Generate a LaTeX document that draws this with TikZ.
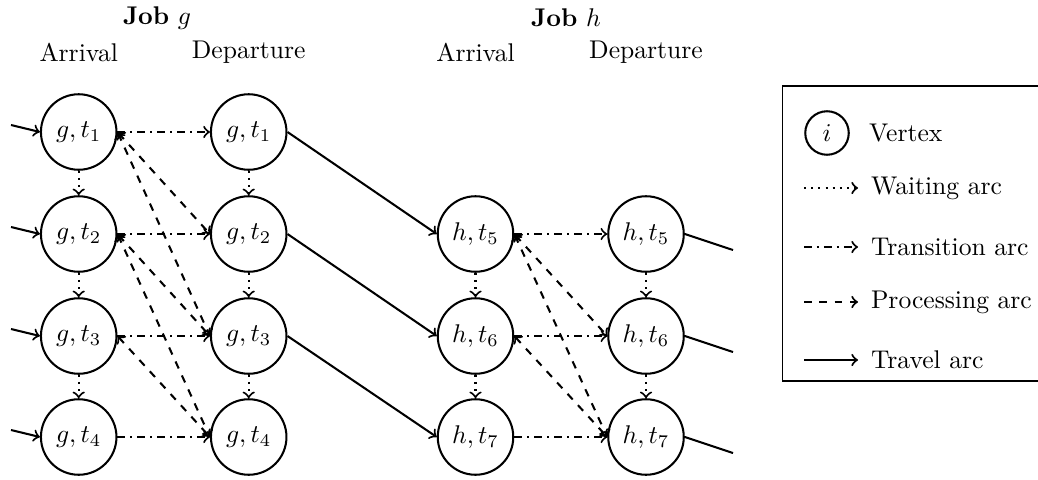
\documentclass[tikz,border=0pt]{standalone}
\begin{document}
\begin{tikzpicture}[x=0.390625pt,y=-0.390625pt,
  vertex/.style={circle,draw,thick,minimum size=29.5pt,inner sep=0pt},
  legvertex/.style={circle,draw,thick,minimum size=17pt,inner sep=0pt},
  waiting/.style={->,thick,dotted},
  transition/.style={->,thick,dash dot},
  processing/.style={<->,thick,dashed},
  travel/.style={->,thick},
  header/.style={inner sep=0pt},
  legtext/.style={anchor=west}]
\clip (0,0) rectangle (1038,479);

% column headers
\node[header] (jg) at (157,18) {\textbf{Job} $g$};
\node[header] (jh) at (566,18) {\textbf{Job} $h$};
\node[header] (arrg) at (78.7,52) {Arrival};
\node[header] (depg) at (248.7,52) {Departure};
\node[header] (arrh) at (475.5,52) {Arrival};
\node[header] (deph) at (646,52) {Departure};

% vertices of job g
\foreach \i/\y in {1/132,2/234,3/336,4/437}{
  \node[vertex] (ga\i) at (78.7,\y) {$g,t_\i$};
  \node[vertex] (gd\i) at (248.7,\y) {$g,t_\i$};
}
% vertices of job h
\foreach \i/\y in {5/234,6/336,7/437}{
  \node[vertex] (ha\i) at (475.5,\y) {$h,t_\i$};
  \node[vertex] (hd\i) at (646,\y) {$h,t_\i$};
}

% incoming travel arcs of job g
\foreach \i/\y in {1/132,2/234,3/336,4/437}{
  \coordinate (in\i) at (11,\y-7);
  \draw[travel] (in\i) -- (ga\i.west);
}
% outgoing travel arcs of job h
\foreach \i/\y in {5/234,6/336,7/437}{
  \coordinate (out\i) at (733,\y+16);
  \draw[thick] (hd\i.east) -- (out\i);
}

% waiting arcs
\foreach \a/\b in {1/2,2/3,3/4}{
  \draw[waiting] (ga\a.south) -- (ga\b.north);
  \draw[waiting] (gd\a.south) -- (gd\b.north);
}
\foreach \a/\b in {5/6,6/7}{
  \draw[waiting] (ha\a.south) -- (ha\b.north);
  \draw[waiting] (hd\a.south) -- (hd\b.north);
}

% transition arcs
\foreach \i in {1,2,3,4}{
  \draw[transition] (ga\i.east) -- (gd\i.west);
}
\foreach \i in {5,6,7}{
  \draw[transition] (ha\i.east) -- (hd\i.west);
}

% processing arcs
\foreach \a/\b in {1/2,1/3,2/3,2/4,3/4}{
  \draw[processing] (ga\a.east) -- (gd\b.west);
}
\foreach \a/\b in {5/6,5/7,6/7}{
  \draw[processing] (ha\a.east) -- (hd\b.west);
}

% travel arcs between the jobs
\draw[travel] (gd1.east) -- (ha5.west);
\draw[travel] (gd2.east) -- (ha6.west);
\draw[travel] (gd3.east) -- (ha7.west);

% legend
\draw[thin] (782,86) rectangle (1060,381);
\node[legvertex] (li) at (827,133) {$i$};
\node[legtext] (lv) at (860,133) {Vertex};
\foreach \n/\y/\s/\t in {w/188/waiting/Waiting arc,
                         t/247/transition/Transition arc,
                         p/302/processing/Processing arc,
                         r/360/travel/Travel arc}{
  \coordinate (\n a) at (804,\y);
  \coordinate (\n b) at (858,\y);
  \draw[\s,-> ] (\n a) -- (\n b);
  \node[legtext] (\n l) at (862,\y) {\t};
}
\end{tikzpicture}
\end{document}
